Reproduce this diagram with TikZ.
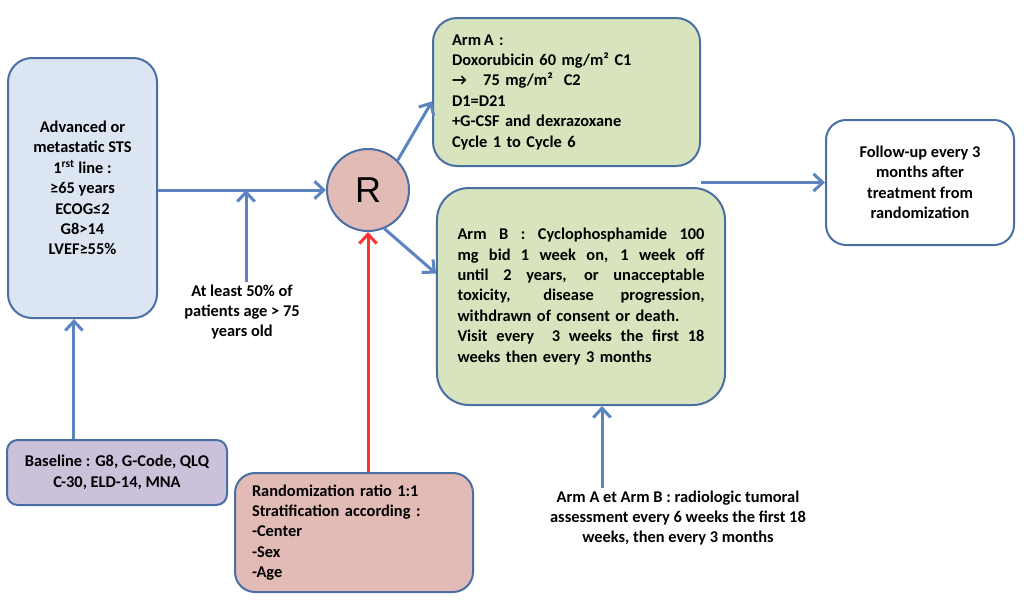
\documentclass[tikz,border=0pt]{standalone}
\usepackage{fontspec}
\setmainfont{Carlito}
\newfontfamily\rfont{Liberation Sans}
\usetikzlibrary{arrows.meta}
\definecolor{edgeblue}{HTML}{4A6FA5}
\definecolor{arrblue}{HTML}{5B84C0}
\definecolor{bluefill}{HTML}{DCE6F2}
\definecolor{greenfill}{HTML}{D7E4BD}
\definecolor{lilacfill}{HTML}{CCC1DA}
\definecolor{pinkfill}{HTML}{E2BAB6}
\definecolor{arrred}{HTML}{FF3030}
\newcommand\jline[1]{\makebox[185.25pt][s]{\spaceskip=.22em plus 1fil\relax #1}}
\begin{document}
\begin{tikzpicture}[x=0.75pt,y=-0.75pt,
  box/.style={draw=edgeblue, line width=1.5pt, font=\bfseries\fontsize{12.3}{15.3}\selectfont},
  note/.style={font=\bfseries\fontsize{12.3}{15.3}\selectfont, align=center, inner sep=2pt},
  arr/.style={draw=arrblue, line width=2.25pt, -{Straight Barb[length=7pt,width=13pt,line width=2.25pt]}}]
\useasboundingbox (0,0) rectangle (1024,603);
% boxes
\node[box, fill=bluefill, rounded corners=18pt, minimum width=111.75pt, minimum height=195pt, align=center] (lbox) at (82.5,188)
  {Advanced or\\metastatic STS\\1\textsuperscript{rst} line :\\≥65 years\\ECOG≤2\\G8>14\\LVEF≥55\%};
\node[box, fill=pinkfill, circle, minimum size=61.5pt, inner sep=0pt, font=\rfont\fontsize{27}{29}\selectfont] (rc) at (368,190) {R};
\node[box, fill=greenfill, rounded corners=18pt, text width=171.75pt, inner xsep=14.25pt, minimum height=111pt, align=left] (armA) at (566.5,92)
  {Arm\,A :\\Doxorubicin 60 mg/m² C1\\→\quad 75 mg/m²\ \ C2\\D1=D21\\+G-CSF and dexrazoxane\\Cycle 1 to Cycle 6};
\node[box, fill=greenfill, rounded corners=24pt, text width=185.25pt, inner xsep=15.4pt, minimum height=162.75pt, align=left] (armB) at (581,296.5)
  {\jline{Arm B : Cyclophosphamide 100}\\\jline{mg bid 1 week on, 1 week off}\\\jline{until 2 years, or unacceptable}\\\jline{toxicity, disease progression,}\\withdrawn of consent or death.\\\jline{Visit every \ 3 weeks the first 18}\\weeks then every 3 months};
\node[box, fill=white, rounded corners=15pt, minimum width=141pt, minimum height=93.75pt, align=center] (fu) at (920,182.5)
  {Follow-up every 3\\months after\\treatment from\\randomization};
\node[box, fill=lilacfill, rounded corners=8pt, minimum width=165pt, minimum height=48.75pt, align=center] (base) at (117,472.5)
  {Baseline : G8, G-Code, QLQ\\C-30, ELD-14, MNA};
\node[box, fill=pinkfill, rounded corners=15pt, text width=153pt, inner xsep=12.75pt, minimum height=89.25pt, align=left] (rand) at (354,532.5)
  {Randomization ratio 1:1\\Stratification according :\\-Center\\-Sex\\-Age};
% free texts
\node[note] (age) at (242,312) {At least 50\% of\\patients age > 75\\years old};
\node[note] (assess) at (678,518) {Arm A et Arm B : radiologic tumoral\\assessment every 6 weeks the first 18\\weeks, then every 3 months};
% arrows
\draw[arr] (lbox.east |- rc.west) -- (rc.west);
\draw[arr] ([xshift=3pt]age.north) -- ([xshift=3pt]age.north |- rc.west);
\draw[arr] (rc.45) -- (armA.184);
\draw[arr] (rc.-67) -- (armB.171);
\draw[arr] (armA.east |- fu.west) -- (fu.west);
\draw[arr] ([xshift=-6.4pt]lbox.south |- base.north) -- ([xshift=-6.4pt]lbox.south);
\draw[arr, draw=arrred] (rand.north -| rc.south) -- (rc.south);
\draw[arr] ([xshift=15.75pt]armB.south |- assess.north) -- ([xshift=15.75pt]armB.south);
\end{tikzpicture}
\end{document}
